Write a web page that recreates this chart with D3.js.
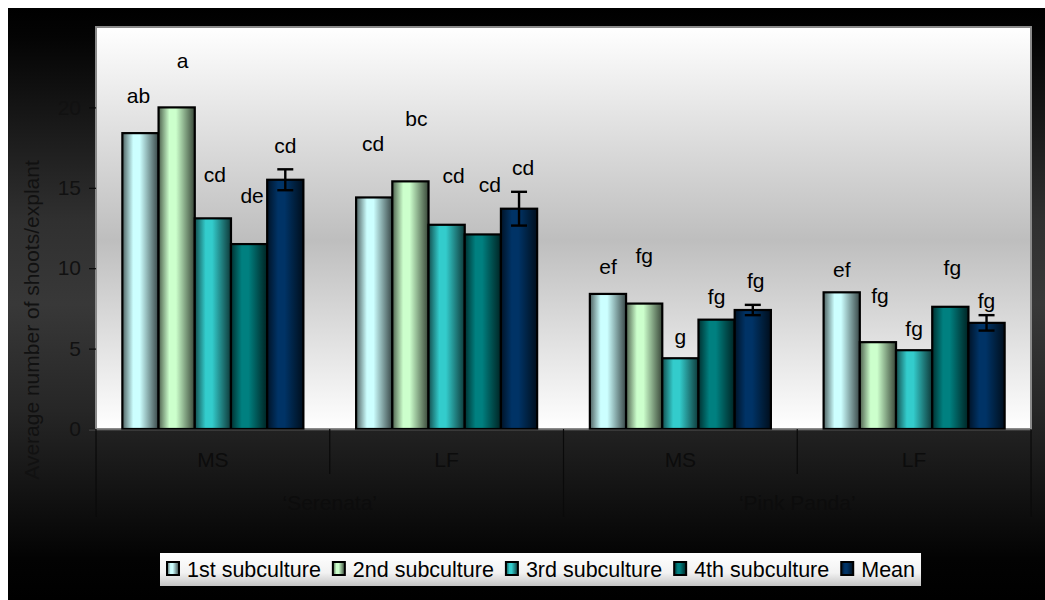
<!DOCTYPE html>
<html>
<head>
<meta charset="utf-8">
<script src="https://cdn.jsdelivr.net/npm/d3@7"></script>
<style>
  body { margin: 0; background: #fff; }
  svg { display: block; }
  text { font-family: Arial, "Liberation Sans", sans-serif; }
</style>
</head>
<body>
<script>
// data
var cultivars = ["\u2018Serenata\u2019", "\u2018Pink Panda\u2019"];
var media = ["MS", "LF", "MS", "LF"];
var series = ["1st subculture", "2nd subculture", "3rd subculture", "4th subculture", "Mean"];
var sub1 = [18.4, 14.4, 8.4, 8.5];
var sub2 = [20.0, 15.4, 7.8, 5.4];
var sub3 = [13.1, 12.7, 4.4, 4.9];
var sub4 = [11.5, 12.1, 6.8, 7.6];
var mean = [15.5, 13.7, 7.4, 6.6];
var meanErr = [0.65, 1.05, 0.32, 0.48];
var letters = [
  ["ab", "a", "cd", "de", "cd"],
  ["cd", "bc", "cd", "cd", "cd"],
  ["ef", "fg", "g", "fg", "fg"],
  ["ef", "fg", "fg", "fg", "fg"]
];
var yTicks = [0, 5, 10, 15, 20];

// layout / style
var colors = ["#CCFFFF", "#CCFFCC", "#33CCCC", "#008080", "#003366"];
var labelLift = [
  [37, 47, 44, 48, 34],
  [54, 63, 49, 50, 41],
  [27, 48, 22, 23, 29],
  [23, 47, 22, 39, 22]
];
var labelDx = [
  [-2, 6, 2, 3, 0],
  [-1, 6, 7, 7, 4],
  [0, 0, 0, 0, 3],
  [0, 2, 0, 2, 0]
];

var W = 1045, H = 600;
var plot = { left: 96, top: 27, right: 1031, bottom: 429 };

var svg = d3.select("body").append("svg")
    .attr("width", W)
    .attr("height", H);

var defs = svg.append("defs");

var bg = defs.append("linearGradient").attr("id", "outerBg")
    .attr("x1", 0).attr("y1", 0).attr("x2", 0).attr("y2", 1);
[[0, "#000"], [0.05, "#040404"], [0.36, "#303030"], [0.5, "#383838"], [0.68, "#262626"], [0.93, "#030303"], [1, "#000"]]
  .forEach(function(s) { bg.append("stop").attr("offset", s[0]).attr("stop-color", s[1]); });

var pg = defs.append("linearGradient").attr("id", "plotBg")
    .attr("x1", 0).attr("y1", 0).attr("x2", 0).attr("y2", 1);
[[0, "#fff"], [0.53, "#bebebe"], [1, "#fff"]]
  .forEach(function(s) { pg.append("stop").attr("offset", s[0]).attr("stop-color", s[1]); });

var lg = defs.append("linearGradient").attr("id", "legBg")
    .attr("x1", 0).attr("y1", 0).attr("x2", 0).attr("y2", 1);
[[0, "#fff"], [0.6, "#f2f2f2"], [1, "#c4c4c4"]]
  .forEach(function(s) { lg.append("stop").attr("offset", s[0]).attr("stop-color", s[1]); });

// one horizontal "cylinder" gradient per series colour
colors.forEach(function(c, i) {
  var g = defs.append("linearGradient").attr("id", "bar" + i)
      .attr("x1", 0).attr("y1", 0).attr("x2", 1).attr("y2", 0);
  var dark = function(t) { return d3.interpolateRgb(c, "#000")(t); };
  [[0, dark(0.62)], [0.3, c], [0.48, c], [0.78, dark(0.42)], [1, dark(0.72)]]
    .forEach(function(s) { g.append("stop").attr("offset", s[0]).attr("stop-color", s[1]); });
});

// outer chart area
svg.append("rect")
    .attr("x", 8).attr("y", 8)
    .attr("width", W - 8).attr("height", H - 8)
    .attr("fill", "url(#outerBg)");

// plot area
svg.append("rect")
    .attr("x", plot.left).attr("y", plot.top)
    .attr("width", plot.right - plot.left).attr("height", plot.bottom - plot.top)
    .attr("fill", "url(#plotBg)")
    .attr("stroke", "#8a8a8a")
    .attr("stroke-width", 2);

var y = d3.scaleLinear().domain([0, 25]).range([plot.bottom, plot.top]);

var x0 = d3.scaleBand()
    .domain(d3.range(media.length))
    .range([plot.left, plot.right]);

var x1 = d3.scaleBand()
    .domain(d3.range(series.length))
    .range([0, x0.bandwidth()])
    .paddingOuter(0.728);

var values = [sub1, sub2, sub3, sub4, mean];

var rows = [];
media.forEach(function(m, g) {
  series.forEach(function(s, i) {
    rows.push({ g: g, i: i, v: values[i][g], label: letters[g][i] });
  });
});

// bars
svg.append("g").selectAll("rect")
    .data(rows)
    .enter().append("rect")
    .attr("x", function(d) { return x0(d.g) + x1(d.i); })
    .attr("y", function(d) { return y(d.v); })
    .attr("width", x1.bandwidth())
    .attr("height", function(d) { return y(0) - y(d.v); })
    .attr("fill", function(d) { return "url(#bar" + d.i + ")"; })
    .attr("stroke", "#000")
    .attr("stroke-width", 2.2);

// error bars on the means
var eb = svg.append("g").selectAll("g")
    .data(mean.map(function(v, g) { return { g: g, v: v, e: meanErr[g] }; }))
    .enter().append("g")
    .attr("stroke", "#000")
    .attr("stroke-width", 2.4);
var ebX = function(d) { return x0(d.g) + x1(4) + x1.bandwidth() / 2; };
eb.append("line")
    .attr("x1", ebX).attr("x2", ebX)
    .attr("y1", function(d) { return y(d.v + d.e); })
    .attr("y2", function(d) { return y(d.v - d.e); });
eb.append("line")
    .attr("x1", function(d) { return ebX(d) - 8; }).attr("x2", function(d) { return ebX(d) + 8; })
    .attr("y1", function(d) { return y(d.v + d.e); })
    .attr("y2", function(d) { return y(d.v + d.e); });
eb.append("line")
    .attr("x1", function(d) { return ebX(d) - 8; }).attr("x2", function(d) { return ebX(d) + 8; })
    .attr("y1", function(d) { return y(d.v - d.e); })
    .attr("y2", function(d) { return y(d.v - d.e); });

// letter labels
svg.append("g").selectAll("text")
    .data(rows)
    .enter().append("text")
    .attr("x", function(d) { return x0(d.g) + x1(d.i) + x1.bandwidth() / 2 + labelDx[d.g][d.i]; })
    .attr("y", function(d) { return y(d.v) - labelLift[d.g][d.i]; })
    .attr("dy", "0.35em")
    .attr("text-anchor", "middle")
    .attr("font-size", "21px")
    .attr("fill", "#000")
    .text(function(d) { return d.label; });

// y axis
var yAxis = svg.append("g")
    .attr("transform", "translate(" + plot.left + ",0)")
    .call(d3.axisLeft(y).tickValues(yTicks).tickSize(7).tickPadding(8));
yAxis.select(".domain").remove();
yAxis.selectAll(".tick line").attr("stroke", "#0a0a0a").attr("stroke-width", 1.2);
yAxis.selectAll(".tick text")
    .attr("fill", "#111")
    .attr("font-size", "21px")
    .attr("font-family", "Arial, 'Liberation Sans', sans-serif");

svg.append("text")
    .attr("transform", "translate(39," + 320 + ") rotate(-90)")
    .attr("text-anchor", "middle")
    .attr("font-size", "21px")
    .attr("fill", "#111")
    .text("Average number of shoots/explant");

// category axis (two levels)
svg.append("line")
    .attr("x1", plot.left - 7).attr("x2", plot.right)
    .attr("y1", plot.bottom + 1).attr("y2", plot.bottom + 1)
    .attr("stroke", "#555").attr("stroke-width", 1.2);

var seps = d3.range(media.length + 1);
svg.append("g").selectAll("line")
    .data(seps)
    .enter().append("line")
    .attr("x1", function(d) { return d < media.length ? x0(d) : plot.right; })
    .attr("x2", function(d) { return d < media.length ? x0(d) : plot.right; })
    .attr("y1", plot.bottom)
    .attr("y2", function(d) { return d % 2 === 0 ? 517 : 474; })
    .attr("stroke", "#0a0a0a")
    .attr("stroke-width", 1.2);

svg.append("g").selectAll("text")
    .data(media)
    .enter().append("text")
    .attr("x", function(d, i) { return x0(i) + x0.bandwidth() / 2; })
    .attr("y", 460)
    .attr("dy", "0.35em")
    .attr("text-anchor", "middle")
    .attr("font-size", "21px")
    .attr("fill", "#0c0c0c")
    .text(function(d) { return d; });

svg.append("g").selectAll("text")
    .data(cultivars)
    .enter().append("text")
    .attr("x", function(d, i) { return x0(i * 2) + x0.bandwidth(); })
    .attr("y", 503)
    .attr("dy", "0.35em")
    .attr("text-anchor", "middle")
    .attr("font-size", "21px")
    .attr("fill", "#0c0c0c")
    .text(function(d) { return d; });

// legend
var legend = svg.append("g");
var legBox = legend.append("rect")
    .attr("x", 160).attr("y", 553)
    .attr("height", 33)
    .attr("fill", "url(#legBg)");

var lx = 167;
series.forEach(function(s, i) {
  legend.append("rect")
      .attr("x", lx).attr("y", 562)
      .attr("width", 12).attr("height", 13)
      .attr("fill", "url(#bar" + i + ")")
      .attr("stroke", "#000")
      .attr("stroke-width", 2);
  var t = legend.append("text")
      .attr("x", lx + 20).attr("y", 569)
      .attr("dy", "0.35em")
      .attr("font-size", "21.5px")
      .attr("fill", "#000")
      .text(s);
  lx += 20 + t.node().getComputedTextLength() + 12;
});
legBox.attr("width", lx - 160 - 6);
</script>
</body>
</html>
